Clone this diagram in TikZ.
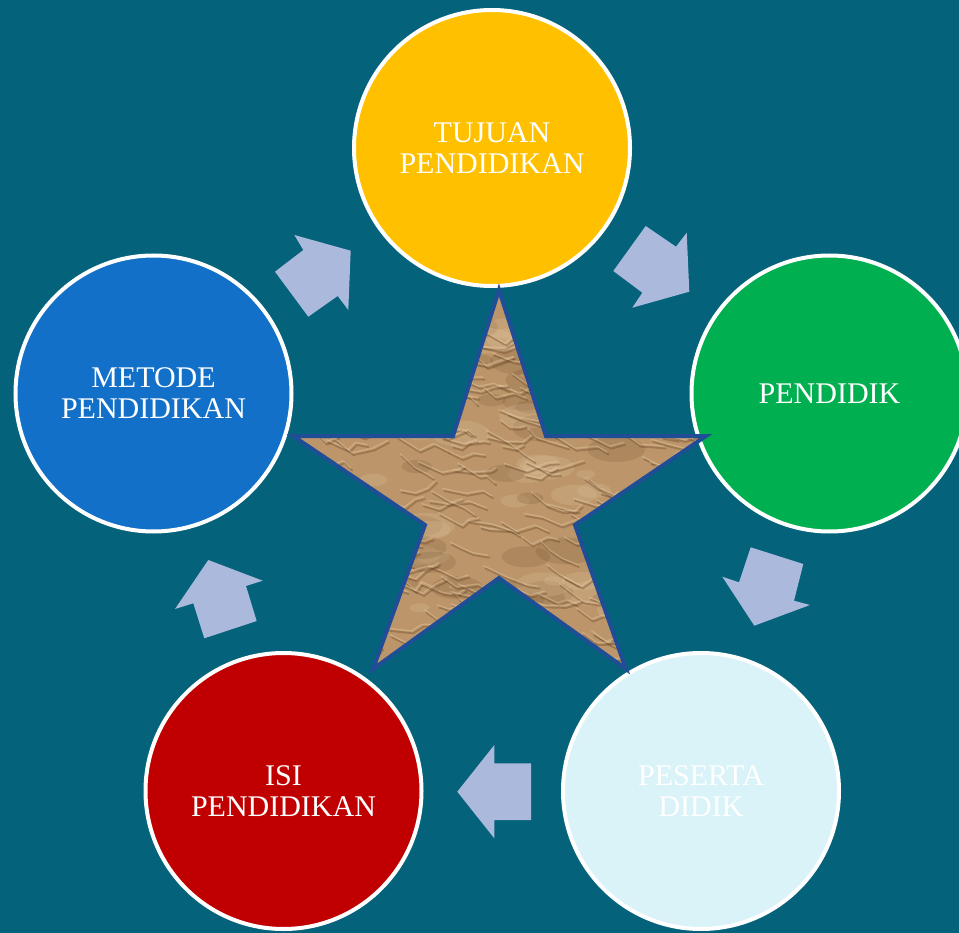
\documentclass[tikz,border=0pt]{standalone}
\usepackage{fontspec}
\setmainfont{Liberation Serif}
\definecolor{bgteal}{HTML}{04627A}
\definecolor{cyellow}{HTML}{FFC000}
\definecolor{cgreen}{HTML}{00B050}
\definecolor{ccyan}{HTML}{DAF3F8}
\definecolor{cred}{HTML}{C00000}
\definecolor{cblue}{HTML}{1270C8}
\definecolor{arrowblue}{HTML}{ABB9DD}
\definecolor{starline}{HTML}{1F4E96}
\definecolor{startan}{HTML}{BC966A}
\definecolor{stardark}{HTML}{6A4626}
\definecolor{starlight}{HTML}{E2C7A2}
\tikzset{
  circ/.style={circle, draw=white, line width=4pt, minimum size=276pt, inner sep=0pt,
    text=white, align=center, font=\fontsize{30}{31}\selectfont},
  blockarrow/.style={fill=arrowblue, draw=none},
}
\begin{document}
\begin{tikzpicture}[x=1pt,y=-1pt]
\fill[bgteal] (0,0) rectangle (959,933);
\useasboundingbox (0,0) rectangle (959,933);

% circles
\node[circ, fill=cyellow] (tujuan) at (492,148) {TUJUAN\\PENDIDIKAN};
\node[circ, fill=cgreen] (pendidik) at (829.5,393.5) {PENDIDIK};
\node[circ, fill=ccyan] (peserta) at (701,791) {PESERTA\\DIDIK};
\node[circ, fill=cred] (isi) at (283.5,791) {ISI\\PENDIDIKAN};
\node[circ, fill=cblue] (metode) at (153.5,393.5) {METODE\\PENDIDIKAN};

% block arrows
\fill[blockarrow] (275,271.7) -- (303.3,250) -- (294.3,235) -- (350.7,250.7) -- (348.3,310) -- (337.7,296) -- (308.3,316.7) -- cycle;
\fill[blockarrow] (613.3,271) -- (645.7,226) -- (676,246.7) -- (686.7,232.7) -- (689.3,291.7) -- (632.3,307.7) -- (642.3,292.7) -- cycle;
\fill[blockarrow] (750.7,547.3) -- (803.3,564) -- (794,600.7) -- (810,605) -- (754.3,625.7) -- (722.3,576.7) -- (739,582.3) -- cycle;
\fill[blockarrow] (531,763.3) -- (531,820) -- (494.3,820) -- (494.3,838.3) -- (457.3,791.7) -- (494.3,745) -- (494.3,763.3) -- cycle;
\fill[blockarrow] (256.7,621) -- (204.3,638.3) -- (193.3,603.3) -- (175,609) -- (208.3,560) -- (262.7,580.7) -- (246,586) -- cycle;

% star
\def\starpath{(499,290) -- (546,436) -- (706,436) -- (575,525) -- (626,669) -- (499,578) -- (373,669) -- (425,525) -- (293,436) -- (453,436) -- cycle}
\begin{scope}
\clip \starpath;
\fill[startan] (280,280) rectangle (720,680);
\pgfmathsetseed{11}
% mottling
\foreach \i in {1,...,110}{
  \pgfmathsetmacro{\xa}{290+rnd*420}
  \pgfmathsetmacro{\ya}{285+rnd*390}
  \pgfmathsetmacro{\ra}{6+rnd*14}
  \pgfmathsetmacro{\sh}{rnd}
  \ifdim\sh pt<0.5pt
    \fill[stardark, opacity=0.18] (\xa,\ya) ellipse[x radius=\ra*1.6, y radius=\ra*0.7];
  \else
    \fill[starlight, opacity=0.22] (\xa,\ya) ellipse[x radius=\ra*1.6, y radius=\ra*0.7];
  \fi
}
% crinkle ridges
\foreach \i in {1,...,260}{
  \pgfmathsetmacro{\xa}{290+rnd*420}
  \pgfmathsetmacro{\ya}{285+rnd*390}
  \pgfmathsetmacro{\dxa}{8+rnd*16}
  \pgfmathsetmacro{\dya}{2+rnd*12}
  \pgfmathsetmacro{\dxb}{6+rnd*16}
  \pgfmathsetmacro{\dyb}{rand*9}
  \pgfmathsetmacro{\dxc}{5+rnd*12}
  \pgfmathsetmacro{\dyc}{rand*8}
  \draw[stardark, opacity=0.38, line width=1.8pt, line join=round, line cap=round]
    (\xa,\ya) -- ++(\dxa,\dya) -- ++(\dxb,\dyb) -- ++(\dxc,\dyc);
  \draw[starlight, opacity=0.45, line width=1.3pt, line join=round, line cap=round]
    (\xa-1.5,\ya-2.5) -- ++(\dxa,\dya) -- ++(\dxb,\dyb) -- ++(\dxc,\dyc);
}
\end{scope}
\draw[starline, line width=4pt, line join=miter] \starpath;
\end{tikzpicture}
\end{document}
